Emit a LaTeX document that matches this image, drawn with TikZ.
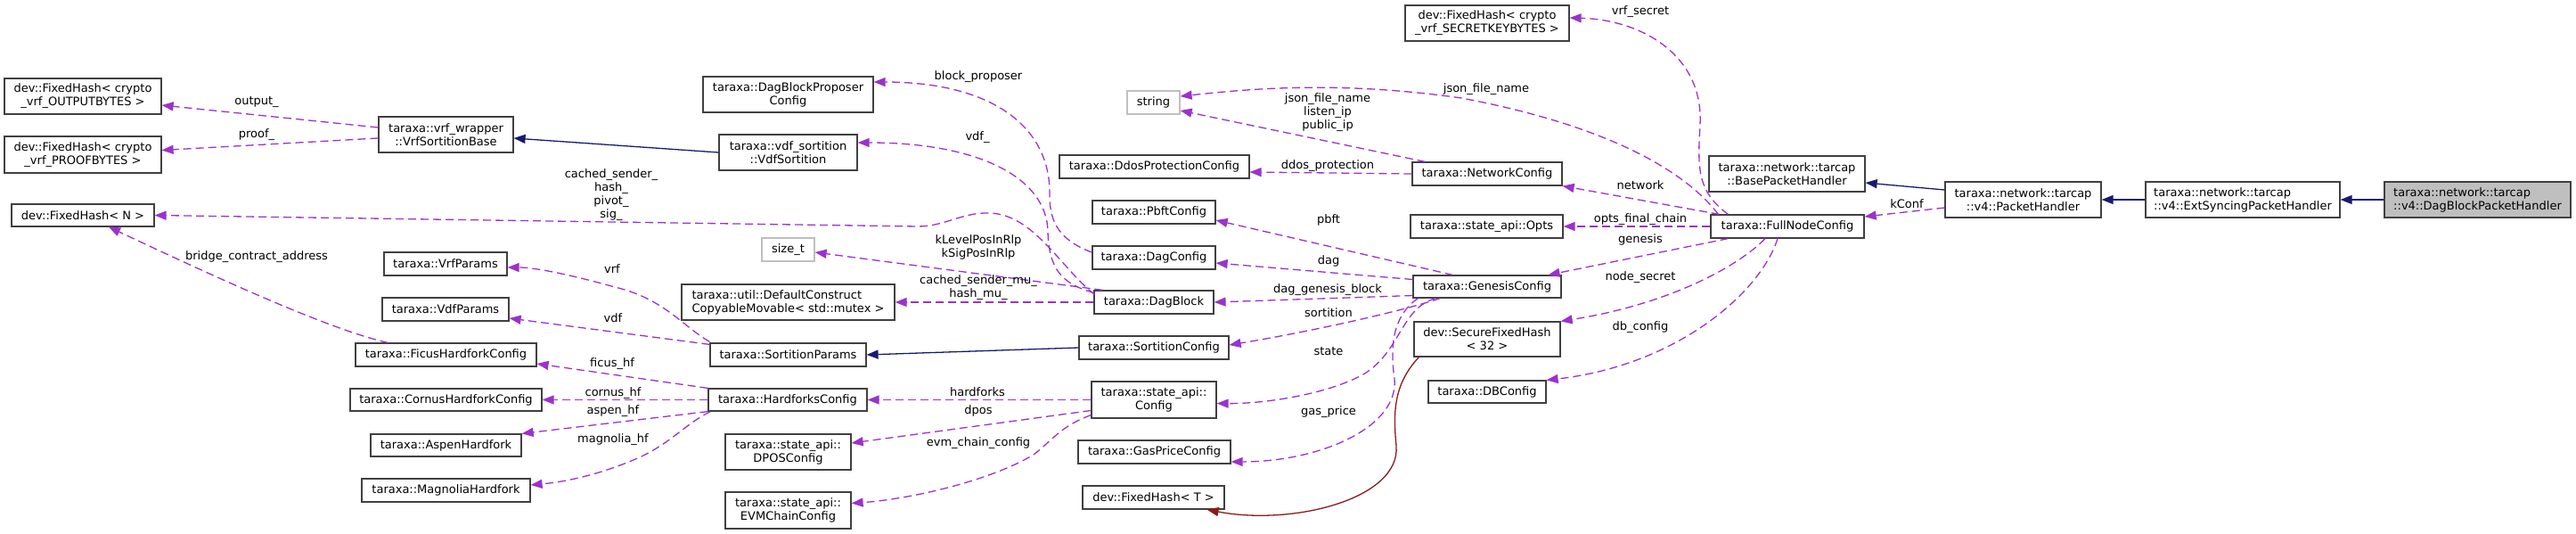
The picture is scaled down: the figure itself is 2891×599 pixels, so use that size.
\documentclass[tikz,border=0pt]{standalone}
\usepackage{fontspec}
\setmainfont{DejaVu Sans}
\usepackage{xcolor}
\usepackage{tikz}
\usetikzlibrary{positioning,arrows.meta,calc}
\definecolor{usageviolet}{HTML}{9A32CD}
\definecolor{inheritblue}{HTML}{191970}
\definecolor{templatered}{HTML}{8B1A1A}
\definecolor{boxgray}{HTML}{404040}
\definecolor{extgray}{HTML}{BFBFBF}
\tikzset{
  class-node/.style={draw=boxgray, line width=1.2pt, fill=white,
    font=\fontsize{13}{15}\selectfont, align=center, inner sep=2pt},
  ext-node/.style={class-node, draw=extgray},
  focus-node/.style={class-node, fill=extgray},
  usage-arrow/.style={-{Triangle[length=13pt,width=10pt]}, line width=1.3pt,
    draw=usageviolet, dash pattern=on 9pt off 5pt},
  inherit-arrow/.style={-{Triangle[length=13pt,width=10pt]}, line width=1.3pt, draw=inheritblue},
  template-arrow/.style={-{Triangle[length=13pt,width=10pt]}, line width=1.3pt, draw=templatered},
  edge-label/.style={font=\fontsize{13}{15}\selectfont, align=center, inner sep=0pt}
}
\begin{document}
\begin{tikzpicture}[x=1pt,y=-1pt]
\useasboundingbox (0,0) rectangle (2891,599);

\node[class-node, minimum width=176, minimum height=40] (fh-output) at (93,108) {dev::FixedHash< crypto\\\_vrf\_OUTPUTBYTES >};
\node[class-node, minimum width=176, minimum height=41] (fh-proof) at (93,173.5) {dev::FixedHash< crypto\\\_vrf\_PROOFBYTES >};
\node[class-node, minimum width=160, minimum height=25] (fh-n) at (93,241.5) {dev::FixedHash< N >};

\node[class-node, minimum width=151, minimum height=40] (vrf-base) at (500.5,151) {taraxa::vrf\_wrapper\\::VrfSortitionBase};
\node[class-node, minimum width=138, minimum height=26] (vrf-params) at (500,296) {taraxa::VrfParams};
\node[class-node, minimum width=142, minimum height=26] (vdf-params) at (500,347) {taraxa::VdfParams};
\node[class-node, minimum width=203, minimum height=26] (ficus) at (500.5,398) {taraxa::FicusHardforkConfig};
\node[class-node, minimum width=215, minimum height=25] (cornus) at (500.5,448.5) {taraxa::CornusHardforkConfig};
\node[class-node, minimum width=169, minimum height=25] (aspen) at (500.5,499.5) {taraxa::AspenHardfork};
\node[class-node, minimum width=189, minimum height=26] (magnolia) at (500.5,550) {taraxa::MagnoliaHardfork};

\node[class-node, minimum width=191, minimum height=40] (proposer) at (884.5,106) {taraxa::DagBlockProposer\\Config};
\node[class-node, minimum width=155, minimum height=40] (vdf-sortition) at (884.5,171) {taraxa::vdf\_sortition\\::VdfSortition};
\node[ext-node, minimum width=59, minimum height=26] (size-t) at (884.5,280) {size\_t};
\node[class-node, minimum width=239, minimum height=40, align=left] (mutex) at (884.5,339) {taraxa::util::DefaultConstruct\\CopyableMovable< std::mutex >};
\node[class-node, minimum width=175, minimum height=26] (sortition-params) at (884.5,398) {taraxa::SortitionParams};
\node[class-node, minimum width=178, minimum height=25] (hardforks) at (884,448.5) {taraxa::HardforksConfig};
\node[class-node, minimum width=141, minimum height=40] (dpos) at (884.5,507) {taraxa::state\_api::\\DPOSConfig};
\node[class-node, minimum width=141, minimum height=41] (evm) at (884.5,572.5) {taraxa::state\_api::\\EVMChainConfig};

\node[ext-node, minimum width=59, minimum height=26] (string) at (1294.5,115) {string};
\node[class-node, minimum width=213, minimum height=26] (ddos) at (1295.5,187) {taraxa::DdosProtectionConfig};
\node[class-node, minimum width=138, minimum height=26] (pbft) at (1295,238) {taraxa::PbftConfig};
\node[class-node, minimum width=138, minimum height=26] (dag-config) at (1295,289) {taraxa::DagConfig};
\node[class-node, minimum width=134, minimum height=26] (dag-block) at (1295,339) {taraxa::DagBlock};
\node[class-node, minimum width=168, minimum height=26] (sortition-config) at (1295,390) {taraxa::SortitionConfig};
\node[class-node, minimum width=140, minimum height=41] (state-config) at (1295,448.5) {taraxa::state\_api::\\Config};
\node[class-node, minimum width=171, minimum height=26] (gas-price) at (1295.5,507) {taraxa::GasPriceConfig};
\node[class-node, minimum width=159, minimum height=26] (fh-t) at (1294.5,558) {dev::FixedHash< T >};

\node[class-node, minimum width=184, minimum height=40] (fh-secret) at (1669,26) {dev::FixedHash< crypto\\\_vrf\_SECRETKEYBYTES >};
\node[class-node, minimum width=168, minimum height=26] (network) at (1669,195) {taraxa::NetworkConfig};
\node[class-node, minimum width=171, minimum height=26] (opts) at (1668.5,254) {taraxa::state\_api::Opts};
\node[class-node, minimum width=166, minimum height=25] (genesis) at (1669,321.5) {taraxa::GenesisConfig};
\node[class-node, minimum width=164, minimum height=39] (secure-hash) at (1669,380.5) {dev::SecureFixedHash\\< 32 >};
\node[class-node, minimum width=132, minimum height=25] (db-config) at (1669,439.5) {taraxa::DBConfig};

\node[class-node, minimum width=172, minimum height=26] (full-node) at (2006,254) {taraxa::FullNodeConfig};
\node[class-node, minimum width=175, minimum height=40] (base-handler) at (2005.5,195) {taraxa::network::tarcap\\::BasePacketHandler};
\node[class-node, minimum width=175, minimum height=40] (packet-handler) at (2270.5,224) {taraxa::network::tarcap\\::v4::PacketHandler};
\node[class-node, minimum width=218, minimum height=40, align=left] (ext-handler) at (2517,224) {taraxa::network::tarcap\\::v4::ExtSyncingPacketHandler};
\node[focus-node, minimum width=209, minimum height=40, align=left] (dag-handler) at (2780.5,224) {taraxa::network::tarcap\\::v4::DagBlockPacketHandler};

\draw[inherit-arrow] (vdf-sortition.west) -- ($(vrf-base.east)+(0,4)$);
\draw[inherit-arrow] (sortition-config.west) -- (sortition-params.east);
\draw[inherit-arrow] ($(packet-handler.west)+(0,-11)$) -- ($(base-handler.east)+(0,10)$);
\draw[inherit-arrow] (ext-handler.west) -- (packet-handler.east);
\draw[inherit-arrow] (dag-handler.west) -- (ext-handler.east);
\draw[template-arrow] ($(secure-hash.south west)+(6,0)$) .. controls (1565,430) and (1563,460) .. (1567,500)
  .. controls (1572,560) and (1450,590) .. ($(fh-t.south east)+(-20,0)$);

\draw[usage-arrow] ($(vrf-base.west)+(0,-8)$) -- ($(fh-output.east)+(0,10)$);
\draw[usage-arrow] ($(vrf-base.west)+(0,4)$) -- ($(fh-proof.east)+(0,-5)$);
\draw[usage-arrow] ($(dag-block.north west)+(1,5)$) .. controls (1190,300) and (1160,240) .. (1110,239)
  .. controls (1080,238) and (1060,254) .. (1030,254) -- (fh-n.east);
\draw[usage-arrow] ($(dag-block.north west)+(10,0)$) -- ($(size-t.east)+(0,3)$);
\draw[usage-arrow] (dag-block.west) -- (mutex.east);
\draw[usage-arrow] ($(dag-block.north west)+(0,3)$) .. controls (1190,318) and (1177,300) .. (1176,260)
  .. controls (1175,200) and (1100,160) .. ($(vdf-sortition.east)+(0,-11)$);
\draw[usage-arrow] ($(dag-config.west)+(0,-6)$) .. controls (1190,270) and (1178,250) .. (1178,220)
  .. controls (1180,140) and (1110,92) .. ($(proposer.east)+(0,-14)$);
\draw[usage-arrow] ($(network.north west)+(15,0)$) -- ($(string.east)+(0,9)$);
\draw[usage-arrow] ($(full-node.north west)+(9,0)$) .. controls (1890,190) and (1800,140) .. (1640,110)
  .. controls (1500,90) and (1400,100) .. ($(string.east)+(0,-7)$);
\draw[usage-arrow] ($(full-node.north west)+(20,0)$) .. controls (1905,215) and (1905,190) .. (1908,140)
  .. controls (1912,60) and (1840,22) .. ($(fh-secret.east)+(0,-6)$);
\draw[usage-arrow] ($(full-node.north west)+(10,0)$) -- (network.south east);
\draw[usage-arrow] (full-node.west) -- (opts.east);
\draw[usage-arrow] ($(full-node.south west)+(20,0)$) -- ($(genesis.north east)+(-15,0)$);
\draw[usage-arrow] ($(full-node.south)+(-25,0)$) .. controls (1955,295) and (1880,340) .. (secure-hash.north east);
\draw[usage-arrow] ($(full-node.south)+(-11,0)$) .. controls (1975,330) and (1880,410) .. (db-config.north east);
\draw[usage-arrow] ($(packet-handler.west)+(0,9)$) -- ($(full-node.east)+(0,-11)$);
\draw[usage-arrow] (network.west) -- ($(ddos.east)+(0,6)$);
\draw[usage-arrow] ($(genesis.north west)+(45,0)$) -- ($(pbft.east)+(0,9)$);
\draw[usage-arrow] ($(genesis.west)+(0,-8)$) -- ($(dag-config.east)+(0,6)$);
\draw[usage-arrow] ($(genesis.west)+(0,10)$) -- (dag-block.east);
\draw[usage-arrow] ($(genesis.south west)+(31,0)$) .. controls (1570,350) and (1470,372) .. ($(sortition-config.east)+(0,-3)$);
\draw[usage-arrow] ($(genesis.south west)+(26,0)$) .. controls (1572,345) and (1572,395) .. (1530,420)
  .. controls (1490,442) and (1420,453) .. ($(state-config.east)+(0,4)$);
\draw[usage-arrow] ($(genesis.south west)+(6,0)$) .. controls (1562,355) and (1560,390) .. (1565,425)
  .. controls (1570,480) and (1480,518) .. ($(gas-price.east)+(0,11)$);
\draw[usage-arrow] ($(sortition-params.north west)+(0,-1)$) .. controls (765,365) and (745,335) .. (690,322)
  .. controls (640,308) and (600,300) .. ($(vrf-params.east)+(0,4)$);
\draw[usage-arrow] ($(sortition-params.north west)+(0,2)$) -- ($(vdf-params.east)+(0,10)$);
\draw[usage-arrow] ($(ficus.north west)+(37,0)$) .. controls (370,370) and (240,310) .. ($(fh-n.south)+(29,0)$);
\draw[usage-arrow] (hardforks.north west) -- ($(ficus.east)+(0,10)$);
\draw[usage-arrow] (hardforks.west) -- (cornus.east);
\draw[usage-arrow] (hardforks.south west) -- (aspen.north east);
\draw[usage-arrow] ($(hardforks.south west)+(3,0)$) .. controls (770,475) and (755,495) .. (720,512)
  .. controls (680,530) and (640,540) .. ($(magnolia.east)+(0,-6)$);
\draw[usage-arrow] (state-config.west) -- (hardforks.east);
\draw[usage-arrow] ($(state-config.west)+(0,12)$) -- ($(dpos.east)+(0,-10)$);
\draw[usage-arrow] ($(state-config.south west)+(0,-4)$) .. controls (1190,478) and (1180,495) .. (1160,510)
  .. controls (1110,540) and (1020,560) .. ($(evm.east)+(0,-8)$);

\node[edge-label] (lbl-output) at (288,114) {output\_};
\node[edge-label] (lbl-proof) at (288,151) {proof\_};
\node[edge-label] (lbl-bridge) at (288,288) {bridge\_contract\_address};
\node[edge-label] (lbl-hashes) at (686,219) {cached\_sender\_\\hash\_\\pivot\_\\sig\_};
\node[edge-label] (lbl-vrf) at (687,302) {vrf};
\node[edge-label] (lbl-vdf) at (688,357) {vdf};
\node[edge-label] (lbl-ficus) at (687,408) {ficus\_hf};
\node[edge-label] (lbl-cornus) at (688,441) {cornus\_hf};
\node[edge-label] (lbl-aspen) at (688,461) {aspen\_hf};
\node[edge-label] (lbl-magnolia) at (688,493) {magnolia\_hf};
\node[edge-label] (lbl-proposer) at (1098,86) {block\_proposer};
\node[edge-label] (lbl-vdfmember) at (1097,154) {vdf\_};
\node[edge-label] (lbl-rlp) at (1098,277) {kLevelPosInRlp\\kSigPosInRlp};
\node[edge-label] (lbl-mutex) at (1098,323) {cached\_sender\_mu\_\\hash\_mu\_};
\node[edge-label] (lbl-hardforks) at (1097,440) {hardforks};
\node[edge-label] (lbl-dpos) at (1098,461) {dpos};
\node[edge-label] (lbl-evm) at (1098,497) {evm\_chain\_config};
\node[edge-label] (lbl-ips) at (1490,126) {json\_file\_name\\listen\_ip\\public\_ip};
\node[edge-label] (lbl-ddos) at (1490,186) {ddos\_protection};
\node[edge-label] (lbl-pbft) at (1491,247) {pbft};
\node[edge-label] (lbl-dag) at (1491,293) {dag};
\node[edge-label] (lbl-genesis-block) at (1490,325) {dag\_genesis\_block};
\node[edge-label] (lbl-sortition) at (1491,351) {sortition};
\node[edge-label] (lbl-state) at (1491,394) {state};
\node[edge-label] (lbl-gas) at (1491,462) {gas\_price};
\node[edge-label] (lbl-json) at (1668,100) {json\_file\_name};
\node[edge-label] (lbl-secret) at (1841,13) {vrf\_secret};
\node[edge-label] (lbl-network) at (1841,208) {network};
\node[edge-label] (lbl-opts) at (1841,246) {opts\_final\_chain};
\node[edge-label] (lbl-genesis) at (1841,269) {genesis};
\node[edge-label] (lbl-node-secret) at (1841,311) {node\_secret};
\node[edge-label] (lbl-db) at (1841,367) {db\_config};
\node[edge-label] (lbl-kconf) at (2140,229) {kConf};
\end{tikzpicture}
\end{document}
